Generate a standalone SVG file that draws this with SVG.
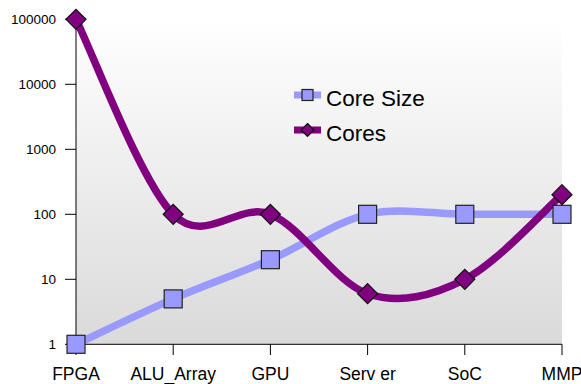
<svg xmlns="http://www.w3.org/2000/svg" width="581" height="384" viewBox="0 0 581 384">
<style>
.ylab{font-family:"Liberation Sans",Arial,sans-serif;font-size:13.5px;fill:#000;text-anchor:end}
.xlab{font-family:"Liberation Sans",Arial,sans-serif;font-size:17.5px;fill:#000;text-anchor:middle}
.leg{font-family:"Liberation Sans",Arial,sans-serif;font-size:22.5px;fill:#000}
.axis{stroke:#000;stroke-width:1;fill:none}
.sizeLine{stroke:#9999FF;stroke-width:7.5;fill:none;stroke-linecap:round}
.coreLine{stroke:#800080;stroke-width:7.5;fill:none;stroke-linecap:round}
.sq{fill:#9999FF;stroke:#222;stroke-width:1.2}
.dm{fill:#800080;stroke:#111;stroke-width:1.2}
</style>
<defs>
<linearGradient id="bg" x1="0" y1="0" x2="0" y2="1">
<stop offset="0" stop-color="#ffffff"/>
<stop offset="1" stop-color="#dadada"/>
</linearGradient>
<rect id="sqm" x="-9" y="-9" width="18" height="18" class="sq"/>
<path id="dmm" d="M0,-10 L10,0 L0,10 L-10,0 Z" class="dm"/>
</defs>
<rect width="581" height="384" fill="#fff"/>
<rect x="76" y="19" width="486" height="325" fill="url(#bg)"/>
<g id="axes">
<line class="axis" x1="76" y1="19" x2="76" y2="355" stroke="#555"/>
<line class="axis" x1="65" y1="344.3" x2="562" y2="344.3"/>
<path class="axis" d="M65,19.3H76M65,84.3H76M65,149.3H76M65,214.3H76M65,279.3H76M173.2,344.3V355M270.4,344.3V355M367.6,344.3V355M464.8,344.3V355M562,344.3V355"/>
</g>
<g id="ylabels">
<text class="ylab" x="56" y="24">100000</text>
<text class="ylab" x="56" y="89">10000</text>
<text class="ylab" x="56" y="154">1000</text>
<text class="ylab" x="56" y="219">100</text>
<text class="ylab" x="56" y="284">10</text>
<text class="ylab" x="56" y="349">1</text>
</g>
<g id="xlabels">
<text class="xlab" x="76" y="380">FPGA</text>
<text class="xlab" x="173.2" y="380">ALU_Array</text>
<text class="xlab" x="270.4" y="380">GPU</text>
<text class="xlab" x="367.6" y="380">Serv er</text>
<text class="xlab" x="464.8" y="380">SoC</text>
<text class="xlab" x="562" y="380">MMP</text>
</g>
<g id="connectors">
<path class="sizeLine" d="M76,344.3 C92.2,336.7 140.8,313 173.2,298.9 C205.6,284.8 238,273.8 270.4,259.7 C302.8,245.6 335.2,221.9 367.6,214.3 C400,206.7 432.4,214.3 464.8,214.3 C497.2,214.3 545.8,214.3 562,214.3"/>
<path class="coreLine" d="M76,19.3 C92.2,51.8 140.8,181.8 173.2,214.3 C205.6,246.8 238,201.1 270.4,214.3 C302.8,227.5 335.2,282.9 367.6,293.7 C400,304.5 432.4,295.8 464.8,279.3 C497.2,262.8 545.8,208.8 562,194.7"/>
</g>
<g id="coreSizeMarkers">
<use href="#sqm" x="76" y="344.3"/>
<use href="#sqm" x="173.2" y="298.9"/>
<use href="#sqm" x="270.4" y="259.7"/>
<use href="#sqm" x="367.6" y="214.3"/>
<use href="#sqm" x="464.8" y="214.3"/>
<use href="#sqm" x="562" y="214.3"/>
</g>
<g id="coresMarkers">
<use href="#dmm" x="76" y="19.3"/>
<use href="#dmm" x="173.2" y="214.3"/>
<use href="#dmm" x="270.4" y="214.3"/>
<use href="#dmm" x="367.6" y="293.7"/>
<use href="#dmm" x="464.8" y="279.3"/>
<use href="#dmm" x="562" y="194.7"/>
</g>
<g id="legend">
<line x1="294" y1="95" x2="321" y2="95" stroke="#9999FF" stroke-width="7"/>
<rect x="302" y="89.5" width="11" height="11" class="sq"/>
<text class="leg" x="326" y="105.5">Core Size</text>
<line x1="294" y1="130" x2="321" y2="130" stroke="#800080" stroke-width="7"/>
<path d="M307.5,123.5 L314,130 L307.5,136.5 L301,130 Z" class="dm"/>
<text class="leg" x="326" y="140.5">Cores</text>
</g>
</svg>
